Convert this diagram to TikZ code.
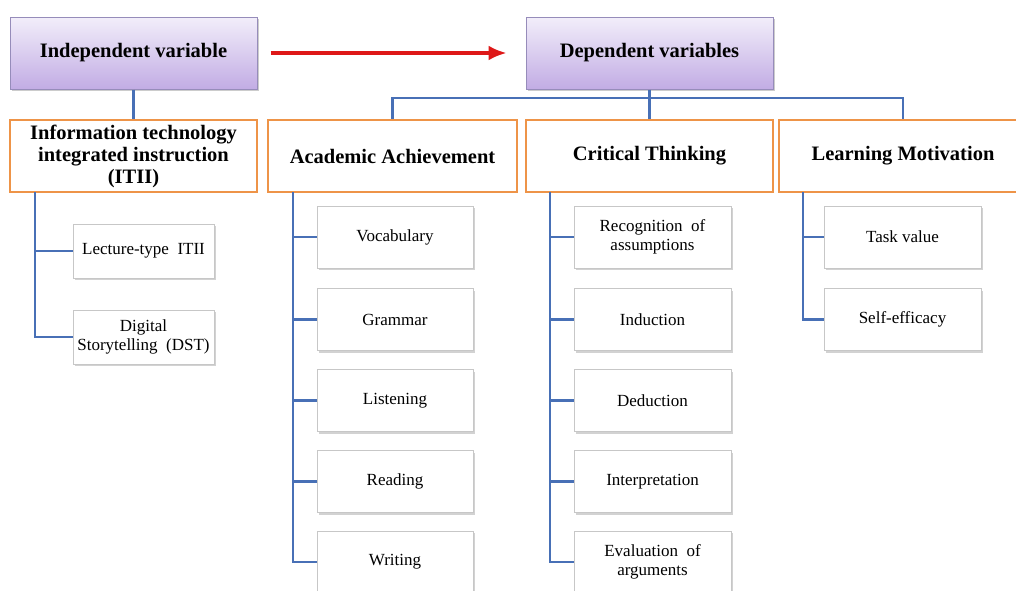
\documentclass[tikz,border=0pt]{standalone}
\usepackage{fontspec}
\setmainfont{Liberation Serif}
\usepackage{tikz}
\usetikzlibrary{arrows.meta, shadows}
\usetikzlibrary{positioning}

\definecolor{varlo}{RGB}{194,172,228}
\definecolor{varhi}{RGB}{242,238,250}
\definecolor{varline}{RGB}{150,140,186}
\definecolor{facline}{RGB}{238,148,72}
\definecolor{treeline}{RGB}{72,112,182}
\definecolor{arrowred}{RGB}{222,24,24}

\begin{document}
\begin{tikzpicture}[x=1pt, y=-1pt,
  varbox/.style={draw=varline, line width=1pt, top color=varhi, bottom color=varlo,
    minimum width=247pt, minimum height=72pt, inner sep=0pt,
    drop shadow={shadow xshift=2pt, shadow yshift=-2pt, fill=black!40},
    font=\fontsize{20.5}{22}\selectfont\bfseries},
  facbox/.style={draw=facline, line width=2.4pt, fill=white,
    minimum width=247pt, minimum height=72pt, inner sep=0pt, align=center,
    font=\fontsize{20.5}{22}\selectfont\bfseries},
  itembox/.style={draw=black!22, line width=0.8pt, fill=white,
    minimum width=157pt, minimum height=62pt, inner sep=0pt, align=center,
    drop shadow={shadow xshift=1.8pt, shadow yshift=-2.4pt, fill=black!35},
    font=\fontsize{17}{18.5}\selectfont},
  link/.style={draw=treeline, line width=2.8pt}]

  \useasboundingbox (0,0) rectangle (1016,590);

  % variables
  \node (iv) [varbox] at (133.5, 53) {Independent variable};
  \node (dv) [varbox] at (649.5, 53) {Dependent variables};
  \draw [arrowred, line width=3.2pt, -{Latex[length=18pt,width=15pt]}]
    ([xshift=13pt]iv.east) -- ([xshift=-19pt]dv.west);

  % factors
  \node (itii) [facbox] at (133.5, 156) {Information technology\\integrated instruction\\(ITII)};
  \node (aa) [facbox, minimum width=249pt] at (392.5, 156) {Academic Achievement};
  \node (ct) [facbox] at (649.5, 156) {Critical Thinking};
  \node (lm) [facbox, minimum width=248pt] at (903, 156) {Learning Motivation};

  % items under ITII
  \node (lec) [itembox, minimum width=141pt, minimum height=54pt] at (143.5, 251) {Lecture-type\ \ ITII};
  \node (dst) [itembox, minimum width=141pt, minimum height=54pt] at (143.5, 337) {Digital\\Storytelling\ \ (DST)};

  % items under academic achievement
  \node (voc) [itembox, minimum width=156pt] at (395, 237) {Vocabulary};
  \node (gra) [itembox, minimum width=156pt] at (395, 319.5) {Grammar};
  \node (lis) [itembox, minimum width=156pt] at (395, 400.5) {Listening};
  \node (rea) [itembox, minimum width=156pt] at (395, 481.5) {Reading};
  \node (wri) [itembox, minimum width=156pt] at (395, 562) {Writing};

  % items under critical thinking
  \node (rec) [itembox] at (652.5, 237) {Recognition\ \ of\\assumptions};
  \node (ind) [itembox] at (652.5, 319.5) {Induction};
  \node (ded) [itembox] at (652.5, 400.5) {Deduction};
  \node (int) [itembox] at (652.5, 481.5) {Interpretation};
  \node (eva) [itembox] at (652.5, 562) {Evaluation\ \ of\\arguments};

  % items under learning motivation
  \node (tas) [itembox] at (902.5, 237) {Task value};
  \node (sel) [itembox] at (902.5, 319.5) {Self-efficacy};

  % tree lines
  \coordinate (bus) at (649.5, 98);
  \coordinate (t1) at (35, 192);
  \coordinate (t2) at (293, 192);
  \coordinate (t3) at (550, 192);
  \coordinate (t4) at (803, 192);

  \draw [link] (iv.south) -- (itii.north);
  \draw [link] (dv.south) -- (bus) -- (ct.north);
  \draw [link] (aa.north) |- (bus) -| (lm.north);

  \draw [link] (t1) |- (lec.west) (t1) |- (dst.west);
  \draw [link] (t2) |- (voc.west) (t2) |- (gra.west) (t2) |- (lis.west) (t2) |- (rea.west) (t2) |- (wri.west);
  \draw [link] (t3) |- (rec.west) (t3) |- (ind.west) (t3) |- (ded.west) (t3) |- (int.west) (t3) |- (eva.west);
  \draw [link] (t4) |- (tas.west) (t4) |- (sel.west);
\end{tikzpicture}
\end{document}
